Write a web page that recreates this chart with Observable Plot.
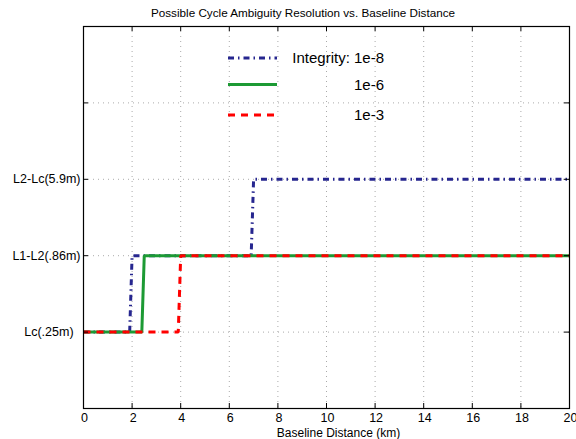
<!DOCTYPE html>
<html>
<head>
<meta charset="utf-8">
<script src="https://cdn.jsdelivr.net/npm/d3@7"></script>
<script src="https://cdn.jsdelivr.net/npm/@observablehq/plot@0.6"></script>
<style>
  html, body { margin: 0; padding: 0; background: #fff; }
  body { font-family: "Liberation Sans", Arial, Helvetica, sans-serif; }
  #wrap { position: relative; width: 576px; height: 439px; overflow: hidden; }
  #title { height: 24px; line-height: 26px; text-align: center; font-size: 11.7px; padding-left: 30px; color: #000; }
  #legend { position: absolute; left: 0; top: 0; }
</style>
</head>
<body>
<div id="wrap">
  <div id="title">Possible Cycle Ambiguity Resolution vs. Baseline Distance</div>
  <div id="chart"></div>
  <div id="legend"></div>
</div>
<script>
// ---- data ----
const km = [0, 1.9, 2.0, 2.4, 2.5, 3.9, 4.0, 6.9, 7.0, 20];
const integrity1e8 = [1, 1, 2, 2, 2, 2, 2, 2, 3, 3];
const integrity1e6 = [1, 1, 1, 1, 2, 2, 2, 2, 2, 2];
const integrity1e3 = [1, 1, 1, 1, 1, 1, 2, 2, 2, 2];
const seriesNames = ["Integrity: 1e-8", "1e-6", "1e-3"];
const xTicks = [0, 2, 4, 6, 8, 10, 12, 14, 16, 18, 20];
const yTicks = [0, 1, 2, 3, 4, 5];
const yTickLabels = ["", "Lc(.25m)\u00a0\u00a0", "L1-L2(.86m)", "L2-Lc(5.9m)", "", ""];

// ---- styles ----
const colors = ["#26268f", "#1c9a34", "#ff0000"];
const dashes = ["6,4,1.5,4", null, "7,6"];
const FONT = "'Liberation Sans', Arial, Helvetica, sans-serif";

const W = 576, H = 415;
const mL = 83, mR = 7, mT = 2, mB = 31;
const fw = W - mL - mR, fh = H - mT - mB;
const tick = 5;

const allSeries = [integrity1e8, integrity1e6, integrity1e3];
const rows = allSeries.map((ys, i) => km.map((x, j) => ({x, y: ys[j], s: i})));

const lineMarks = rows.map((r, i) => Plot.line(r, {
  x: "x", y: "y", stroke: colors[i], strokeWidth: 3,
  strokeDasharray: dashes[i] || undefined, strokeLinecap: "butt", strokeLinejoin: "miter"
}));

const chart = Plot.plot({
  width: W, height: H,
  marginLeft: mL, marginRight: mR, marginTop: mT, marginBottom: mB,
  style: {fontFamily: FONT, color: "#000", background: "#fff", overflow: "visible"},
  x: {domain: [0, 20], axis: null},
  y: {domain: [0, 5], axis: null},
  marks: [
    Plot.ruleX(xTicks.slice(1, -1), {stroke: "#aaa", strokeDasharray: "1,4"}),
    Plot.ruleY(yTicks.slice(1, -1), {stroke: "#aaa", strokeDasharray: "1,4"}),
    ...lineMarks,
    Plot.ruleX(xTicks, {stroke: "#000", insetTop: fh - tick}),
    Plot.ruleX(xTicks, {stroke: "#000", insetBottom: fh - tick}),
    Plot.ruleY(yTicks, {stroke: "#000", insetRight: fw - tick}),
    Plot.ruleY(yTicks, {stroke: "#000", insetLeft: fw - tick}),
    Plot.frame({stroke: "#000", strokeWidth: 1.2}),
    Plot.text(xTicks, {x: d => d, frameAnchor: "bottom", lineAnchor: "top", dy: 5, dx: 1,
      text: d => String(d), fontSize: 12.5, fill: "#000"}),
    Plot.text(yTicks, {y: d => d, frameAnchor: "left", textAnchor: "end", dx: -3,
      text: (d, i) => yTickLabels[i], fontSize: 12.5, fill: "#000"}),
    Plot.text(["Baseline Distance (km)"], {frameAnchor: "bottom", lineAnchor: "top", dy: 19.5, dx: 12, fontSize: 12, fill: "#000"})
  ]
});
document.getElementById("chart").appendChild(chart);

// ---- legend (overlay) ----
const legendY = [58, 84.5, 115];
const lg = document.getElementById("legend");
const ns = "http://www.w3.org/2000/svg";
const svg = document.createElementNS(ns, "svg");
svg.setAttribute("width", 576); svg.setAttribute("height", 140);
svg.style.position = "absolute"; svg.style.left = "0"; svg.style.top = "0";
seriesNames.forEach((name, i) => {
  const ln = document.createElementNS(ns, "line");
  ln.setAttribute("x1", 228); ln.setAttribute("x2", 277);
  ln.setAttribute("y1", legendY[i]); ln.setAttribute("y2", legendY[i]);
  ln.setAttribute("stroke", colors[i]); ln.setAttribute("stroke-width", 3);
  if (dashes[i]) ln.setAttribute("stroke-dasharray", dashes[i]);
  svg.appendChild(ln);
  const t = document.createElementNS(ns, "text");
  t.setAttribute("x", 384); t.setAttribute("y", legendY[i]);
  t.setAttribute("text-anchor", "end"); t.setAttribute("dy", "0.36em");
  t.setAttribute("font-size", 15);
  t.setAttribute("font-family", FONT);
  t.textContent = name;
  svg.appendChild(t);
});
lg.appendChild(svg);
</script>
</body>
</html>
